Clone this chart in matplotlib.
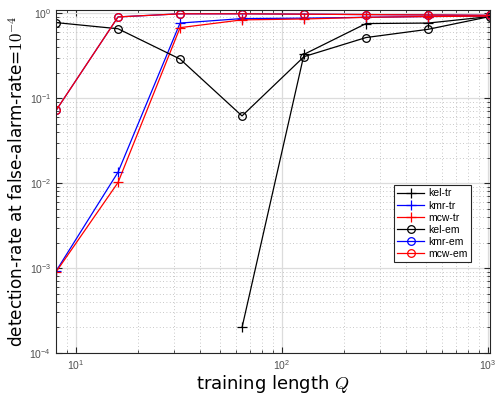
import matplotlib
matplotlib.use("Agg")
import matplotlib.pyplot as plt
from matplotlib import rcParams
from matplotlib.ticker import LogLocator, NullFormatter

rcParams['font.family'] = 'sans-serif'
rcParams['font.sans-serif'] = ['Liberation Sans', 'DejaVu Sans']
rcParams['mathtext.fontset'] = 'cm'

# training lengths
Q = [8, 16, 32, 64, 128, 256, 512, 1024]

# detection rates
kel_tr = [None, None, None, 2.0e-4, 0.33, 0.76, 0.77, 0.92]
kmr_tr = [9.2e-4, 0.0135, 0.77, 0.87, 0.88, 0.90, 0.92, 0.93]
mcw_tr = [9.0e-4, 0.0102, 0.68, 0.84, 0.86, 0.90, 0.92, 0.93]
kel_em = [0.78, 0.66, 0.29, 0.062, 0.31, 0.52, 0.65, 0.92]
kmr_em = [0.072, 0.91, 0.99, 0.99, 0.98, 0.97, 0.96, 0.95]
mcw_em = [0.072, 0.91, 0.99, 0.99, 0.98, 0.97, 0.96, 0.95]

series = [
    ("kel-tr", kel_tr, "k", "+"),
    ("kmr-tr", kmr_tr, "b", "+"),
    ("mcw-tr", mcw_tr, "r", "+"),
    ("kel-em", kel_em, "k", "o"),
    ("kmr-em", kmr_em, "b", "o"),
    ("mcw-em", mcw_em, "r", "o"),
]

fig = plt.figure(figsize=(4.96, 3.97), dpi=100)
ax = fig.add_axes([0.113, 0.111, 0.875, 0.864])

for name, vals, col, mk in series:
    xs = [q for q, v in zip(Q, vals) if v is not None]
    ys = [v for v in vals if v is not None]
    ax.plot(xs, ys, color=col, marker=mk, ms=6.5 if mk == "+" else 5.5,
            mfc="none", mew=0.9, lw=0.9, label=name)

ax.set_xscale("log")
ax.set_yscale("log")
ax.set_xlim(8, 1024)
ax.set_ylim(1e-4, 1.1)

ax.xaxis.set_minor_locator(LogLocator(base=10, subs=range(2, 10), numticks=20))
ax.yaxis.set_minor_locator(LogLocator(base=10, subs=range(2, 10), numticks=20))
ax.xaxis.set_minor_formatter(NullFormatter())
ax.yaxis.set_minor_formatter(NullFormatter())

ax.grid(True, which="major", color="#dcdcdc", lw=0.9, ls="-")
ax.grid(True, which="minor", color="#b5b5b5", lw=0.6, ls=(0, (1, 3)))
ax.set_axisbelow(True)

ax.tick_params(which="both", direction="in", top=True, right=True,
               colors="#262626", labelsize=7.5, labelcolor="#505050")
ax.tick_params(which="major", length=4)
ax.tick_params(which="minor", length=2)
for s in ax.spines.values():
    s.set_color("#262626")
    s.set_linewidth(0.8)

ax.set_xlabel("training length $Q$", fontsize=13, labelpad=1,
              fontfamily="DejaVu Sans")
ax.set_ylabel("detection-rate at false-alarm-rate=$10^{-4}$", fontsize=12.2,
              labelpad=2, fontfamily="DejaVu Sans")

leg = ax.legend(loc="lower right", bbox_to_anchor=(0.968, 0.25), fontsize=7.5,
                fancybox=False, framealpha=1, edgecolor="#262626",
                handlelength=2.6, borderpad=0.3, labelspacing=0.2,
                handletextpad=0.4)
leg.get_frame().set_linewidth(0.8)

fig.savefig("out.png", dpi=100)
